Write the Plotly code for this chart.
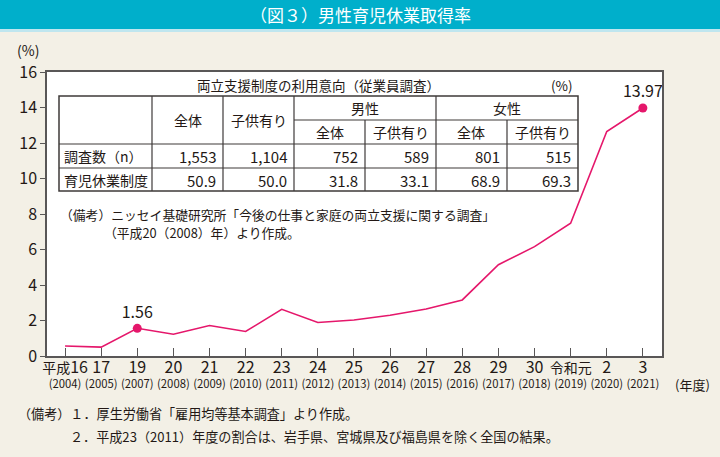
import re
import plotly.graph_objects as go

# ---------------- data ----------------
years = ["2004", "2005", "2007", "2008", "2009", "2010", "2011", "2012", "2013",
         "2014", "2015", "2016", "2017", "2018", "2019", "2020", "2021"]
era_labels = ["平成16", "17", "19", "20", "21", "22", "23", "24", "25",
              "26", "27", "28", "29", "30", "令和元", "2", "3"]
male_leave_rate = [0.56, 0.50, 1.56, 1.23, 1.72, 1.38, 2.63, 1.89, 2.03,
                   2.30, 2.65, 3.16, 5.14, 6.16, 7.48, 12.65, 13.97]
highlight_years = ["2007", "2021"]
y_ticks = [0, 2, 4, 6, 8, 10, 12, 14, 16]

table_title = "両立支援制度の利用意向（従業員調査）"
group_labels = ["男性", "女性"]
col_labels = ["全体", "子供有り", "全体", "子供有り", "全体", "子供有り"]
row_labels = ["調査数（n）", "育児休業制度"]
survey_n = ["1,553", "1,104", "752", "589", "801", "515"]
childcare_leave_intent = [50.9, 50.0, 31.8, 33.1, 68.9, 69.3]

title_text = "（図３）男性育児休業取得率"
table_note = ["（備考）ニッセイ基礎研究所「今後の仕事と家庭の両立支援に関する調査」",
              "（平成20（2008）年）より作成。"]
footer_notes = ["（備考）１．厚生労働省「雇用均等基本調査」より作成。",
                "２．平成23（2011）年度の割合は、岩手県、宮城県及び福島県を除く全国の結果。"]

# ---------------- style ----------------
FONT = "Noto Sans CJK JP"
TXT = "#231815"
LINE = "#E5176B"
BG = "#F3F0E6"
TEAL = "#00AFCB"
AX = "#595757"

W, H = 720, 457
L, R, T, B = 47, 662, 72, 356
PW, PH = R - L, B - T


def px(x):
    return (x - L) / PW


def py(y):
    return (B - y) / PH


fig = go.Figure()
fig.add_trace(go.Scatter(
    x=years, y=male_leave_rate, mode="lines",
    line=dict(color=LINE, width=1.6), hoverinfo="skip", showlegend=False))

hx = [y for y in years if y in highlight_years]
hy = [v for y, v in zip(years, male_leave_rate) if y in highlight_years]
fig.add_trace(go.Scatter(
    x=hx, y=hy, mode="markers+text",
    marker=dict(color=LINE, size=9),
    text=[f"{v:.2f}" for v in hy], textposition="top center",
    textfont=dict(family=FONT, size=16, color=TXT),
    hoverinfo="skip", showlegend=False))


def era_fmt(e):
    m = re.match(r"^(\D*)(\d*)$", e)
    pre, num = m.group(1), m.group(2)
    out = ""
    if pre:
        out += f"<span style='font-size:14px'>{pre}</span>"
    if num:
        out += f"<span style='font-size:16px'>{num}</span>"
    return out


ticktext = [f"{era_fmt(e)}<br>({y})" for e, y in zip(era_labels, years)]

fig.update_layout(
    width=W, height=H,
    margin=dict(l=L, r=W - R, t=T, b=H - B),
    paper_bgcolor=BG, plot_bgcolor="white",
    font=dict(family=FONT, color=TXT),
    xaxis=dict(type="category", range=[-0.5, 16.53],
               tickvals=years, ticktext=ticktext, tickangle=0, automargin=False,
               ticks="inside", ticklen=8, tickcolor=AX, tickwidth=1,
               ticklabelstandoff=2,
               showline=True, linecolor=AX, linewidth=1.5, mirror=True,
               showgrid=False, zeroline=False,
               tickfont=dict(family=FONT, size=11.3, color=TXT)),
    yaxis=dict(range=[0, 16], tickvals=y_ticks, automargin=False,
               ticks="outside", ticklen=5, tickcolor=AX, tickwidth=1,
               showline=True, linecolor=AX, linewidth=1.5, mirror=True,
               showgrid=False, zeroline=False,
               tickfont=dict(family=FONT, size=16, color=TXT)),
)

shapes = []
ann = []

# title bar
shapes.append(dict(type="rect", xref="paper", yref="paper",
                   x0=px(0), x1=px(W), y0=py(0), y1=py(29),
                   fillcolor=TEAL, line=dict(width=0), layer="above"))
shapes.append(dict(type="rect", xref="paper", yref="paper",
                   x0=px(0), x1=px(W), y0=py(29), y1=py(32),
                   fillcolor="#BFE6EF", line=dict(width=0), layer="above"))
ann.append(dict(text=title_text, x=px(360), y=py(15), xref="paper", yref="paper",
                showarrow=False, xanchor="center", yanchor="middle",
                font=dict(family=FONT, size=17, color="white")))

# axis unit labels
ann.append(dict(text="(%)", x=px(28), y=py(50), xref="paper", yref="paper",
                showarrow=False, xanchor="center", yanchor="middle",
                font=dict(family=FONT, size=14, color=TXT)))
ann.append(dict(text="(年度)", x=px(692), y=py(384), xref="paper", yref="paper",
                showarrow=False, xanchor="center", yanchor="middle",
                font=dict(family=FONT, size=13, color=TXT)))

# table
TL, TR_, TT, TB = 59, 578, 96, 191
col_x = [59, 152, 223, 294, 365, 436, 507, 578]
row_y = [96, 120, 144, 168, 191]


def hline(x0, x1, y, w=1.2):
    shapes.append(dict(type="line", xref="paper", yref="paper",
                       x0=px(x0), x1=px(x1), y0=py(y), y1=py(y),
                       line=dict(color="#3E3A39", width=w)))


def vline(x, y0, y1, w=1.2):
    shapes.append(dict(type="line", xref="paper", yref="paper",
                       x0=px(x), x1=px(x), y0=py(y0), y1=py(y1),
                       line=dict(color="#3E3A39", width=w)))


shapes.append(dict(type="rect", xref="paper", yref="paper",
                   x0=px(TL), x1=px(TR_), y0=py(TT), y1=py(TB),
                   fillcolor="white", line=dict(color="#3E3A39", width=1.5)))
hline(col_x[3], TR_, row_y[1])
hline(TL, TR_, row_y[2])
hline(TL, TR_, row_y[3])
for i in [1, 2, 3, 5]:
    vline(col_x[i], TT, TB)
for i in [4, 6]:
    vline(col_x[i], row_y[1], TB)


def txt(s, x, y, anchor="center", size=14):
    ann.append(dict(text=s, x=px(x), y=py(y), xref="paper", yref="paper",
                    showarrow=False, xanchor=anchor, yanchor="middle",
                    font=dict(family=FONT, size=size, color=TXT)))


txt(table_title, (TL + TR_) / 2, 85, size=13.5)
txt("(%)", 575, 85, anchor="right", size=13.5)
txt(col_labels[0], (col_x[1] + col_x[2]) / 2, 120)
txt(col_labels[1], (col_x[2] + col_x[3]) / 2, 120)
txt(group_labels[0], (col_x[3] + col_x[5]) / 2, 108)
txt(group_labels[1], (col_x[5] + col_x[7]) / 2, 108)
for j in range(2, 6):
    txt(col_labels[j], (col_x[j + 1] + col_x[j + 2]) / 2, 132)
txt(row_labels[0], 62, 156, anchor="left")
txt(row_labels[1], 62, 180, anchor="left")
for j in range(6):
    txt(survey_n[j], col_x[j + 2] - 5, 156, anchor="right", size=15)
    txt(f"{childcare_leave_intent[j]:.1f}", col_x[j + 2] - 5, 180, anchor="right", size=15)

txt(table_note[0], 58, 214, anchor="left", size=12.8)
txt(table_note[1], 102, 232, anchor="left", size=12.8)

# footer
ann.append(dict(text=footer_notes[0], x=px(16), y=py(413), xref="paper", yref="paper",
                showarrow=False, xanchor="left", yanchor="middle",
                font=dict(family=FONT, size=13.1, color=TXT)))
ann.append(dict(text=footer_notes[1], x=px(68), y=py(436), xref="paper", yref="paper",
                showarrow=False, xanchor="left", yanchor="middle",
                font=dict(family=FONT, size=13.1, color=TXT)))

fig.update_layout(shapes=shapes, annotations=ann)
fig.write_html("out.html", config={"displayModeBar": False},
               post_script="document.body.style.margin='0';")
